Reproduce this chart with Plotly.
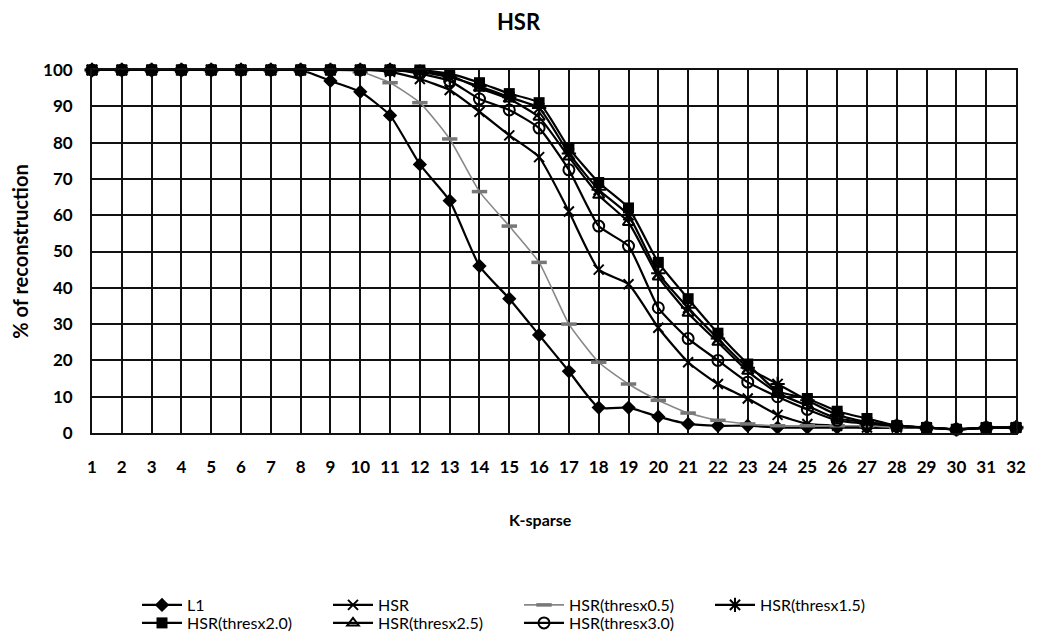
import plotly.graph_objects as go

k_sparse = list(range(1, 33))
tick_labels = [str(k) for k in k_sparse]

l1 = [100, 100, 100, 100, 100, 100, 100, 100, 97, 94, 87.5, 74, 64, 46, 37, 27,
      17, 7, 7, 4.5, 2.5, 2, 2, 1.5, 1.5, 1.5, 1.5, 1.5, 1.5, 1, 1.5, 1.5]
hsr = [100, 100, 100, 100, 100, 100, 100, 100, 100, 100, 99.5, 97.5, 94.5, 88.5, 82, 76,
       61, 45, 41, 29, 19.5, 13.5, 9.5, 5, 2.5, 2, 1.5, 1.5, 1.5, 1, 1.5, 1.5]
hsr_t05 = [100, 100, 100, 100, 100, 100, 100, 100, 100, 99.5, 96.5, 91, 81, 66.5, 57, 47,
           30, 19.5, 13.5, 9, 5.5, 3.5, 2.5, 2, 2, 2, 2, 1.5, 1.5, 1, 1.5, 1.5]
hsr_t15 = [100, 100, 100, 100, 100, 100, 100, 100, 100, 100, 100, 99.5, 98, 95.5, 92.5, 89.5,
           77, 67, 60, 44, 34.5, 26, 18, 13.5, 9, 5, 3, 2, 1.5, 1, 1.5, 1.5]
hsr_t20 = [100, 100, 100, 100, 100, 100, 100, 100, 100, 100, 100, 100, 99, 96.5, 93.5, 91,
           78.5, 69, 62, 47, 37, 27.5, 19, 11.5, 9.5, 6, 4, 2, 1.5, 1, 1.5, 1.5]
hsr_t25 = [100, 100, 100, 100, 100, 100, 100, 100, 100, 100, 100, 99.5, 98.5, 95, 92, 87,
           76, 65.5, 58, 43, 33, 25, 17, 11, 7.5, 4, 3, 2, 1.5, 1, 1.5, 1.5]
hsr_t30 = [100, 100, 100, 100, 100, 100, 100, 100, 100, 100, 100, 99, 97, 92, 89, 84,
           72.5, 57, 51.5, 34.5, 26, 20, 14, 10, 6.5, 3.5, 2.5, 2, 1.5, 1, 1.5, 1.5]

series = [
    ("L1", l1, dict(symbol="diamond", size=11, color="black"), "black", 2.2, "legend"),
    ("HSR", hsr, dict(symbol="x-thin", size=10, color="black", line=dict(width=2, color="black")), "black", 2.2, "legend"),
    ("HSR(thresx0.5)", hsr_t05, dict(symbol="line-ew", size=11, color="#777", line=dict(width=3.5, color="#777")), "#888", 1.6, "legend"),
    ("HSR(thresx1.5)", hsr_t15, dict(symbol="asterisk", size=12, color="black", line=dict(width=2, color="black")), "black", 2.2, "legend"),
    ("HSR(thresx2.0)", hsr_t20, dict(symbol="square", size=11, color="black"), "black", 2.2, "legend2"),
    ("HSR(thresx2.5)", hsr_t25, dict(symbol="triangle-up-open", size=10, color="black", line=dict(width=2, color="black")), "black", 2.2, "legend2"),
    ("HSR(thresx3.0)", hsr_t30, dict(symbol="circle-open", size=11, color="black", line=dict(width=2, color="black")), "black", 2.2, "legend2"),
]

fig = go.Figure()
for name, vals, mk, lc, lw, lg in series:
    fig.add_trace(go.Scatter(
        x=k_sparse, y=vals, name=name, mode="lines+markers",
        line=dict(color=lc, width=lw, shape="spline", smoothing=0.5),
        marker=mk, cliponaxis=False, legend=lg,
    ))

# page body has an 8px margin, so the figure is drawn 8px in from the window edge
OFF = 8
W, HT = 1037 - 2 * OFF, 642 - 2 * OFF
ML, MT = 92 - OFF, 70 - OFF
MR = W - (1016 - OFF)
MB = HT - (433 - OFF)
PW = W - ML - MR
PH = HT - MT - MB

font_main = "Lato, 'Open Sans', sans-serif"
leg_common = dict(orientation="h", xanchor="left", yanchor="middle",
                  font=dict(family=font_main, size=16, color="black"),
                  entrywidth=136, entrywidthmode="pixels", itemwidth=40,
                  bgcolor="rgba(0,0,0,0)", tracegroupgap=0)
fig.update_layout(
    width=W, height=HT,
    paper_bgcolor="white", plot_bgcolor="white",
    margin=dict(l=ML, r=MR, t=MT, b=MB, autoexpand=False),
    title=dict(text="<b>HSR</b>", x=0.5, xanchor="center", y=1 - (22 - OFF) / HT, yanchor="middle",
               font=dict(family=font_main, size=22, color="black")),
    font=dict(family=font_main, color="black"),
    showlegend=True,
    legend=dict(x=(137 - 92) / PW, y=(433 - 605) / PH, **leg_common),
    legend2=dict(x=(137 - 92) / PW, y=(433 - 623) / PH, **leg_common),
    annotations=[dict(text="<b>K-sparse</b>", xref="paper", yref="paper",
                      x=(540 - 92) / PW, y=(433 - 519) / PH, xanchor="center", yanchor="middle",
                      showarrow=False, font=dict(family=font_main, size=16, color="black"))],
)
fig.update_xaxes(
    range=[1, 32], tickmode="array", tickvals=k_sparse, ticktext=tick_labels,
    showgrid=True, gridcolor="#111", gridwidth=1.8, automargin=False,
    showline=True, linecolor="#111", linewidth=1.8, mirror=True,
    zeroline=False, ticks="", ticklabelstandoff=18,
    tickfont=dict(family=font_main, size=17, color="black", weight="bold"),
)
fig.update_yaxes(
    range=[0, 100], tickmode="linear", tick0=0, dtick=10,
    showgrid=True, gridcolor="#111", gridwidth=1.8, automargin=False,
    showline=True, linecolor="#111", linewidth=1.8, mirror=True,
    zeroline=False, ticks="", ticklabelstandoff=14,
    tickfont=dict(family=font_main, size=17, color="black", weight="bold"),
    title=dict(text="<b>% of reconstruction</b>", standoff=12, font=dict(family=font_main, size=20, color="black")),
)

fig.write_html("out.html")
